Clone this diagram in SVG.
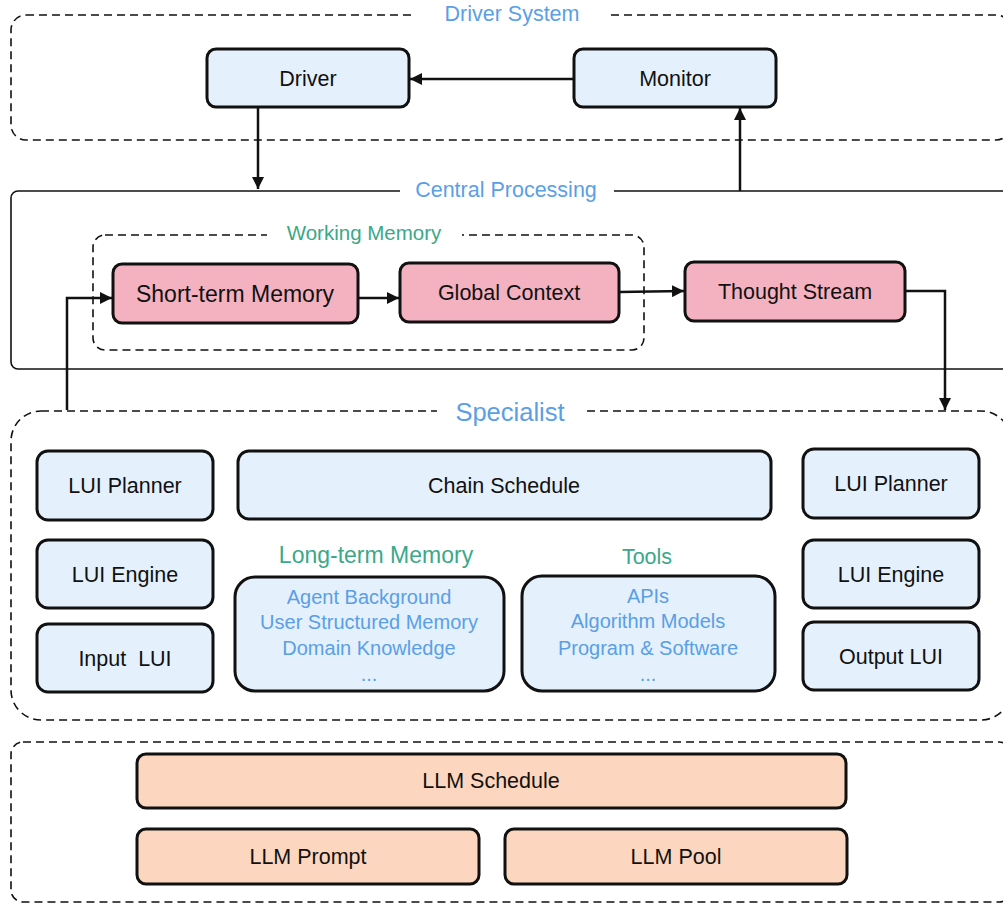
<svg xmlns="http://www.w3.org/2000/svg" width="1003" height="905" viewBox="0 0 1003 905">
<style>
text{font-family:"Liberation Sans",Arial,sans-serif;text-anchor:middle;dominant-baseline:central}
.node{stroke:#111;stroke-width:3}
.blue{fill:#E4F0FC}
.pink{fill:#F4B2C1}
.peach{fill:#FDD6C0}
.lbl{font-size:21.5px;fill:#111}
.dash{fill:none;stroke:#111;stroke-width:1.6;stroke-dasharray:8 5}
.solid{fill:none;stroke:#111;stroke-width:1.6}
.ttl{fill:#5A9FE6}
.grn{fill:#3BA889}
.sub{font-size:20px;fill:#5A9FE6}
.conn{fill:none;stroke:#111;stroke-width:2.5}
.gap{fill:#fff}
</style>
<defs>
<marker id="ah" markerUnits="userSpaceOnUse" markerWidth="13" markerHeight="12" refX="12" refY="6" orient="auto">
<path d="M0,0 L12,6 L0,12 z" fill="#111"/>
</marker>
</defs>

<g id="driver-system">
<rect class="dash" x="11" y="15" width="1000" height="125" rx="15"/>
<rect class="gap" x="416" y="4" width="193" height="22"/>
<text class="ttl" x="512" y="14" font-size="21.5">Driver System</text>
</g>

<g id="central-processing">
<rect class="solid" x="11" y="191" width="1000" height="178" rx="7"/>
<rect class="gap" x="400" y="180" width="214" height="22"/>
<text class="ttl" x="506" y="190" font-size="21.5">Central Processing</text>
</g>

<g id="working-memory">
<rect class="dash" x="93" y="235" width="551" height="115" rx="12"/>
<rect class="gap" x="267" y="224" width="195" height="22"/>
<text class="grn" x="364" y="232" font-size="20.5">Working Memory</text>
</g>

<g id="specialist">
<rect class="dash" x="11" y="411" width="1000" height="309" rx="30"/>
<rect class="gap" x="437" y="398" width="147" height="28"/>
<text class="ttl" x="510" y="412" font-size="25.5">Specialist</text>
</g>

<g id="llm-layer">
<rect class="dash" x="11" y="742" width="1000" height="160" rx="12"/>
</g>

<g id="driver">
<rect class="node blue" x="207" y="49" width="202" height="58" rx="9"/>
<text class="lbl" x="308" y="79">Driver</text>
</g>
<g id="monitor">
<rect class="node blue" x="574" y="49" width="202" height="58" rx="9"/>
<text class="lbl" x="675" y="79">Monitor</text>
</g>

<g id="short-term-memory">
<rect class="node pink" x="113" y="264" width="245" height="59" rx="9"/>
<text class="lbl" x="235" y="294" style="font-size:23px">Short-term Memory</text>
</g>
<g id="global-context">
<rect class="node pink" x="400" y="263" width="219" height="59" rx="9"/>
<text class="lbl" x="509" y="293">Global Context</text>
</g>
<g id="thought-stream">
<rect class="node pink" x="685" y="262" width="220" height="59" rx="9"/>
<text class="lbl" x="795" y="292">Thought Stream</text>
</g>

<g id="lui-planner-left">
<rect class="node blue" x="37" y="451" width="176" height="69" rx="11"/>
<text class="lbl" x="125" y="486">LUI Planner</text>
</g>
<g id="lui-engine-left">
<rect class="node blue" x="37" y="540" width="176" height="68" rx="11"/>
<text class="lbl" x="125" y="575">LUI Engine</text>
</g>
<g id="input-lui">
<rect class="node blue" x="37" y="624" width="176" height="68" rx="11"/>
<text class="lbl" x="125" y="659" xml:space="preserve">Input  LUI</text>
</g>
<g id="chain-schedule">
<rect class="node blue" x="238" y="451" width="533" height="68" rx="11"/>
<text class="lbl" x="504" y="486">Chain Schedule</text>
</g>
<g id="long-term-memory">
<text class="grn" x="376" y="555" font-size="23">Long-term Memory</text>
<rect class="node blue" x="235" y="577" width="269" height="114" rx="20"/>
<text class="sub" x="369" y="597">Agent Background</text>
<text class="sub" x="369" y="622">User Structured Memory</text>
<text class="sub" x="369" y="648">Domain Knowledge</text>
<text class="sub" x="369" y="674">...</text>
</g>
<g id="tools">
<text class="grn" x="647" y="557" font-size="21.5">Tools</text>
<rect class="node blue" x="522" y="576" width="253" height="115" rx="20"/>
<text class="sub" x="648" y="596">APIs</text>
<text class="sub" x="648" y="621">Algorithm Models</text>
<text class="sub" x="648" y="648">Program &amp; Software</text>
<text class="sub" x="648" y="674">...</text>
</g>
<g id="lui-planner-right">
<rect class="node blue" x="803" y="449" width="176" height="69" rx="11"/>
<text class="lbl" x="891" y="484">LUI Planner</text>
</g>
<g id="lui-engine-right">
<rect class="node blue" x="803" y="540" width="176" height="68" rx="11"/>
<text class="lbl" x="891" y="575">LUI Engine</text>
</g>
<g id="output-lui">
<rect class="node blue" x="803" y="622" width="176" height="68" rx="11"/>
<text class="lbl" x="891" y="657">Output LUI</text>
</g>

<g id="llm-schedule">
<rect class="node peach" x="137" y="754" width="709" height="54" rx="9"/>
<text class="lbl" x="491" y="781">LLM Schedule</text>
</g>
<g id="llm-prompt">
<rect class="node peach" x="137" y="829" width="342" height="55" rx="9"/>
<text class="lbl" x="308" y="857">LLM Prompt</text>
</g>
<g id="llm-pool">
<rect class="node peach" x="505" y="829" width="342" height="55" rx="9"/>
<text class="lbl" x="676" y="857">LLM Pool</text>
</g>

<g id="connectors">
<path class="conn" d="M574,79 L410,79" marker-end="url(#ah)"/>
<path class="conn" d="M258,107 L258,189" marker-end="url(#ah)"/>
<path class="conn" d="M740,191 L740,108" marker-end="url(#ah)"/>
<path class="conn" d="M358,298 L399,298" marker-end="url(#ah)"/>
<path class="conn" d="M619,292 L684,291" marker-end="url(#ah)"/>
<path class="conn" d="M905,291 L945,291 L945,410" marker-end="url(#ah)"/>
<path class="conn" d="M67,410 L67,298 L112,298" marker-end="url(#ah)"/>
</g>
</svg>
